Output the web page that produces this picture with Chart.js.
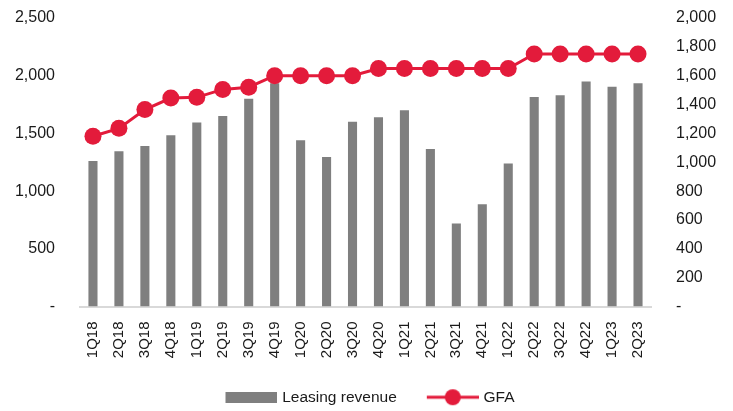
<!DOCTYPE html>
<html>
<head>
<meta charset="utf-8">
<script src="https://cdn.jsdelivr.net/npm/chart.js@4.4.1/dist/chart.umd.min.js"></script>
<style>
html,body{margin:0;padding:0;background:#ffffff;}
#wrap{width:733px;height:411px;position:relative;}
</style>
</head>
<body>
<div id="wrap"><canvas id="c" width="733" height="411"></canvas></div>
<script>
const categories = ['1Q18','2Q18','3Q18','4Q18','1Q19','2Q19','3Q19','4Q19','1Q20','2Q20','3Q20','4Q20','1Q21','2Q21','3Q21','4Q21','1Q22','2Q22','3Q22','4Q22','1Q23','2Q23'];
const leasingRevenue = [1260,1345,1390,1485,1595,1650,1800,1935,1440,1295,1600,1640,1700,1365,720,885,1240,1815,1830,1950,1905,1935];
const gfa = [1180,1235,1365,1445,1450,1505,1520,1600,1600,1600,1600,1650,1650,1650,1650,1650,1650,1750,1750,1750,1750,1750];
const leftTicks = [0,500,1000,1500,2000,2500];
const rightTicks = [0,200,400,600,800,1000,1200,1400,1600,1800,2000];

const BAR = '#7f7f7f';
const RED = '#e31b3b';
const FONT = "'Liberation Sans', Arial, sans-serif";

function fmt(v){ return v === 0 ? '-' : v.toLocaleString('en-US'); }

// legend symbols (canvas images): box width BOXW, image drawn centred on the box
const BOXW = 73, EXT = 3, IMGW = BOXW + 2 * EXT, SYMW = 52, SYM0 = IMGW - SYMW;
const barImg = document.createElement('canvas');
barImg.width = IMGW; barImg.height = 11;
(function(){ const g = barImg.getContext('2d'); g.fillStyle = BAR; g.fillRect(SYM0,0,SYMW,11); })();
const lineImg = document.createElement('canvas');
lineImg.width = IMGW; lineImg.height = 18;
(function(){ const g = lineImg.getContext('2d');
  g.strokeStyle = RED; g.lineWidth = 3; g.beginPath(); g.moveTo(SYM0,9); g.lineTo(IMGW,9); g.stroke();
  g.fillStyle = RED; g.beginPath(); g.arc(SYM0 + SYMW/2, 9, 8, 0, Math.PI*2); g.fill(); })();

function fixY(width){
  return function(s){ s.width = width; s.paddingTop = 9; s.paddingBottom = 9; };
}

new Chart(document.getElementById('c'), {
  data: {
    labels: categories,
    datasets: [
      { type: 'line', label: 'GFA', data: gfa, yAxisID: 'y2', order: 0,
        borderColor: RED, backgroundColor: RED, borderWidth: 3,
        pointRadius: 8.5, pointHoverRadius: 8.5, pointBackgroundColor: RED, pointBorderWidth: 0,
        tension: 0 },
      { type: 'bar', label: 'Leasing revenue', data: leasingRevenue, yAxisID: 'y', order: 1,
        backgroundColor: BAR, borderWidth: 0, barPercentage: 0.7, categoryPercentage: 0.5 }
    ]
  },
  options: {
    responsive: false,
    animation: false,
    devicePixelRatio: 1,
    layout: { autoPadding: false, padding: { top: 18, left: -17, right: 0, bottom: -4 } },
    plugins: {
      tooltip: { enabled: false },
      legend: {
        position: 'bottom',
        labels: {
          usePointStyle: true,
          pointStyleWidth: BOXW,
          padding: 6,
          color: '#1a1a1a',
          font: { family: FONT, size: 15.5 },
          generateLabels: function(chart){
            return [
              { text: 'Leasing revenue', pointStyle: barImg, datasetIndex: 1, fillStyle: BAR, strokeStyle: BAR, lineWidth: 0, fontColor: '#1a1a1a' },
              { text: 'GFA', pointStyle: lineImg, datasetIndex: 0, fillStyle: RED, strokeStyle: RED, lineWidth: 0, fontColor: '#1a1a1a' }
            ];
          }
        }
      }
    },
    scales: {
      x: {
        grid: { display: false, drawTicks: false, tickLength: 0 },
        border: { display: true, color: '#d9d9d9', width: 2 },
        ticks: { color: '#1a1a1a', font: { family: FONT, size: 15 }, maxRotation: 90, minRotation: 90, autoSkip: false, padding: 15 },
        afterFit: function(s){ s.height = 77; }
      },
      y: {
        position: 'left', min: 0, max: 2500,
        grid: { display: false, drawTicks: false, tickLength: 0 },
        border: { display: false },
        afterBuildTicks: function(s){ s.ticks = leftTicks.map(v => ({ value: v })); },
        ticks: { color: '#1a1a1a', font: { family: FONT, size: 16 }, padding: 25, callback: v => fmt(v) },
        afterFit: fixY(97)
      },
      y2: {
        position: 'right', min: 0, max: 2000,
        grid: { display: false, drawTicks: false, tickLength: 0 },
        border: { display: false },
        afterBuildTicks: function(s){ s.ticks = rightTicks.map(v => ({ value: v })); },
        ticks: { color: '#1a1a1a', font: { family: FONT, size: 16 }, padding: 25, callback: v => fmt(v) },
        afterFit: fixY(82)
      }
    }
  }
});
</script>
</body>
</html>
